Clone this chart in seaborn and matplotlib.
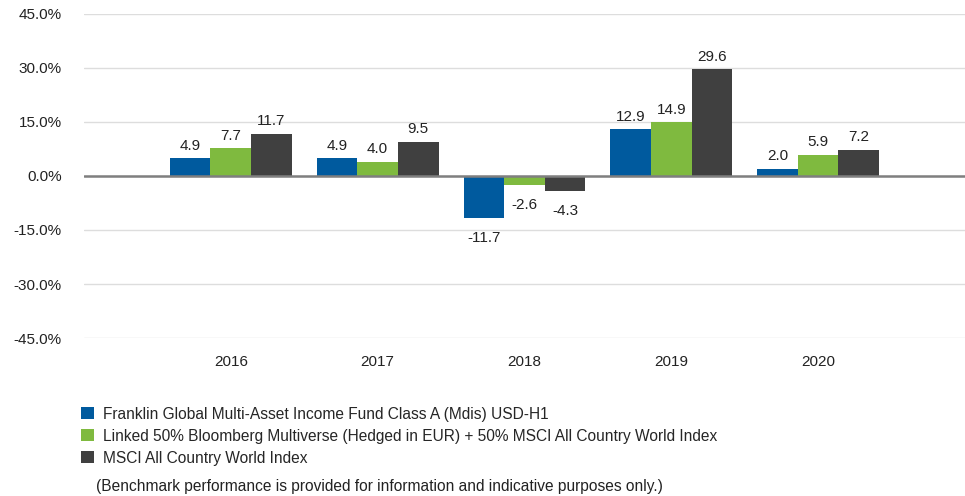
import pandas as pd
import numpy as np
import seaborn as sns
import matplotlib.pyplot as plt
from matplotlib.ticker import FuncFormatter

years = ['2016', '2017', '2018', '2019', '2020']
series = ['Franklin Global Multi-Asset Income Fund Class A (Mdis) USD-H1',
          'Linked 50% Bloomberg Multiverse (Hedged in EUR) + 50% MSCI All Country World Index',
          'MSCI All Country World Index']
fund = [4.9, 4.9, -11.7, 12.9, 2.0]
linked = [7.7, 4.0, -2.6, 14.9, 5.9]
msci = [11.7, 9.5, -4.3, 29.6, 7.2]
colors = ['#005a9e', '#7fba3f', '#404040']

df = pd.DataFrame({
    'year': years * 3,
    'series': [series[0]] * 5 + [series[1]] * 5 + [series[2]] * 5,
    'value': fund + linked + msci,
})

sns.set_style('white')
plt.rcParams['font.family'] = ['Liberation Sans', 'DejaVu Sans']

fig = plt.figure(figsize=(9.65, 4.96), dpi=100)
ax = fig.add_axes([0.087, 0.3185, 0.913, 0.6535])

sns.barplot(data=df, x='year', y='value', hue='series', palette=colors,
            width=0.83, saturation=1, ax=ax, errorbar=None, linewidth=0)

# labels above positive bars, a bit further below negative ones
for c in ax.containers:
    anns = ax.bar_label(c, fmt='%.1f', padding=4, fontsize=11, color='#222222')
    for bar, a in zip(c, anns):
        if bar.get_height() < 0:
            a.xyann = (0, -9)

ax.set_ylim(-45, 45)
ax.set_xlim(-1, 5.0)
ax.set_yticks([-45, -30, -15, 0, 15, 30, 45])
ax.yaxis.set_major_formatter(FuncFormatter(lambda v, p: f'{v:.1f}%'))
ax.grid(axis='y', color='#dddddd', linewidth=1)
ax.set_axisbelow(True)
ax.axhline(0, color='#7f7f7f', linewidth=1.8, zorder=3)
for s in ax.spines.values():
    s.set_visible(False)
ax.tick_params(axis='both', length=0, labelsize=11, colors='#222222')
ax.tick_params(axis='y', pad=16)
ax.tick_params(axis='x', pad=12)
ax.set_xlabel('')
ax.set_ylabel('')

handles, labels = ax.get_legend_handles_labels()
ax.legend(handles, labels, loc='upper left', bbox_to_anchor=(0.084, 0.18),
          bbox_transform=fig.transFigure, frameon=False, fontsize=11.2,
          handlelength=0.8, handleheight=0.8, handletextpad=0.6,
          labelspacing=0.45, borderaxespad=0, borderpad=0)

fig.text(0.1, 0.01, '(Benchmark performance is provided for information and indicative purposes only.)',
         fontsize=11.2, color='#222222')

plt.savefig('out.png', dpi=100)
